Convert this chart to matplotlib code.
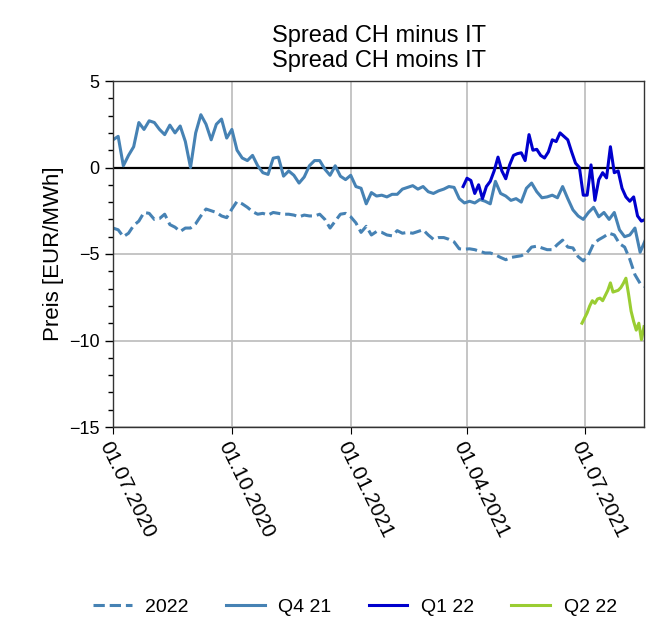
import pandas as pd
import matplotlib
matplotlib.use("Agg")
import matplotlib.pyplot as plt
import matplotlib.dates as mdates
from matplotlib.ticker import MultipleLocator

plt.rcParams['font.family'] = ['Liberation Sans', 'DejaVu Sans']

# Werte (EUR/MWh)
dates_long = pd.date_range('2020-07-01', periods=104, freq='4D')

q4_21 = [1.6, 1.8, 0.1, 0.7, 1.2, 2.6, 2.2, 2.7, 2.6, 2.2,
         1.9, 2.45, 2.0, 2.4, 1.5, 0.0, 2.0, 3.05, 2.5, 1.6,
         2.5, 2.8, 1.7, 2.2, 1.0, 0.55, 0.4, 0.7, 0.1, -0.3,
         -0.4, 0.54, 0.6, -0.5, -0.2, -0.45, -0.9, -0.55, 0.1, 0.4,
         0.4, -0.1, -0.45, 0.1, -0.5, -0.7, -0.45, -1.1, -1.2, -2.1,
         -1.45, -1.65, -1.6, -1.7, -1.55, -1.55, -1.25, -1.15, -1.05, -1.25,
         -1.1, -1.4, -1.5, -1.35, -1.25, -1.1, -1.15, -1.8, -2.05, -1.95,
         -2.05, -1.85, -1.95, -2.1, -0.8, -1.5, -1.65, -1.9, -1.8, -2.0,
         -1.2, -0.9, -1.4, -1.75, -1.7, -1.6, -1.75, -1.1, -1.8, -2.45,
         -2.8, -3.0, -2.6, -2.3, -2.85, -2.6, -3.0, -2.6, -3.6, -4.0,
         -3.9, -3.5, -4.9, -4.2]

cal_2022 = [-3.5, -3.6, -4.0, -3.8, -3.35, -3.1, -2.6, -2.65, -3.0, -2.95,
            -2.7, -3.3, -3.45, -3.7, -3.5, -3.5, -3.25, -2.8, -2.4, -2.5,
            -2.6, -2.8, -2.9, -2.4, -1.96, -2.1, -2.3, -2.55, -2.7, -2.65,
            -2.75, -2.6, -2.65, -2.7, -2.7, -2.75, -2.85, -2.75, -2.8, -2.8,
            -2.7, -3.0, -3.5, -3.1, -2.7, -2.65, -2.85, -3.2, -3.75, -3.4,
            -3.9, -3.7, -3.75, -3.9, -3.95, -3.65, -3.8, -3.75, -3.8, -3.7,
            -3.6, -3.9, -4.15, -4.05, -4.05, -4.15, -4.3, -4.7, -4.72, -4.7,
            -4.75, -4.85, -4.94, -4.94, -5.05, -5.2, -5.33, -5.2, -5.15, -5.1,
            -4.95, -4.6, -4.55, -4.65, -4.75, -4.75, -4.45, -4.2, -4.6, -4.65,
            -5.15, -5.4, -5.05, -4.4, -4.17, -4.0, -3.8, -3.9, -4.4, -4.6,
            -5.3, -6.2, -6.7, -6.9]

dates_q1 = pd.date_range('2021-03-29', periods=48, freq='3D')
q1_22 = [-1.1, -0.62, -0.75, -1.5, -1.0, -1.8, -1.1, -0.8, -0.2, 0.6,
         -0.2, -0.65, 0.15, 0.7, 0.8, 0.85, 0.4, 1.9, 1.0, 1.05,
         0.7, 0.55, 0.9, 1.6, 1.5, 2.0, 1.8, 1.6, 0.9, 0.25,
         0.0, -1.6, -1.6, 0.15, -1.9, -0.7, -0.3, -0.6, 1.2, -0.3,
         -0.2, -1.2, -1.7, -1.95, -1.7, -2.8, -3.1, -3.0]

dates_q2 = pd.date_range('2021-06-29', periods=25, freq='2D')
q2_22 = [-9.0, -8.7, -8.4, -8.0, -7.7, -7.85, -7.6, -7.55, -7.7, -7.4,
         -7.1, -6.67, -7.2, -7.15, -7.1, -6.95, -6.7, -6.4, -7.3, -8.3,
         -8.9, -9.4, -9.0, -9.95, -9.2]

fig = plt.figure(figsize=(6.62, 6.24), dpi=100)
ax = fig.add_axes([113 / 662, 1 - 427 / 624, 531 / 662, 346 / 624])

ax.axhline(0, color='black', lw=1.6, zorder=1.5)
ax.plot(dates_long, cal_2022, '--', color='#4682b4', lw=2.2, label='2022')
ax.plot(dates_long, q4_21, '-', color='#4682b4', lw=2.2, label='Q4 21')
ax.plot(dates_q1, q1_22, '-', color='#0000cd', lw=2.2, label='Q1 22')
ax.plot(dates_q2, q2_22, '-', color='#9acd32', lw=2.2, label='Q2 22')

ax.set_xlim(pd.Timestamp('2020-07-01'), pd.Timestamp('2021-08-16'))
ax.set_ylim(-15, 5)
ax.yaxis.set_major_locator(MultipleLocator(5))
ax.yaxis.set_minor_locator(MultipleLocator(1))
ax.xaxis.set_major_locator(mdates.MonthLocator(bymonth=[1, 4, 7, 10]))
ax.xaxis.set_major_formatter(mdates.DateFormatter('%d.%m.%Y'))

ax.grid(True, which='major', color='#c0c0c0', lw=1.3)
ax.set_axisbelow(True)
ax.tick_params(axis='y', which='major', length=6, width=1, labelsize=13)
ax.tick_params(axis='y', which='minor', length=3.5, width=1)
ax.tick_params(axis='x', which='major', length=5, labelsize=15)
for lab in ax.get_xticklabels():
    lab.set_rotation(-64)
    lab.set_ha('left')
    lab.set_va('top')
    lab.set_rotation_mode('anchor')

for s in ax.spines.values():
    s.set_color('#333333')
    s.set_linewidth(1.0)

ax.set_ylabel('Preis [EUR/MWh]', fontsize=16)
ax.set_title('Spread CH minus IT\nSpread CH moins IT', fontsize=17, pad=10)

fig.legend(loc='center', bbox_to_anchor=(0.536, 0.027), ncol=4, frameon=False,
           fontsize=14, handlelength=2.0, handletextpad=0.7, columnspacing=1.9)

fig.savefig('out.png', dpi=100)
